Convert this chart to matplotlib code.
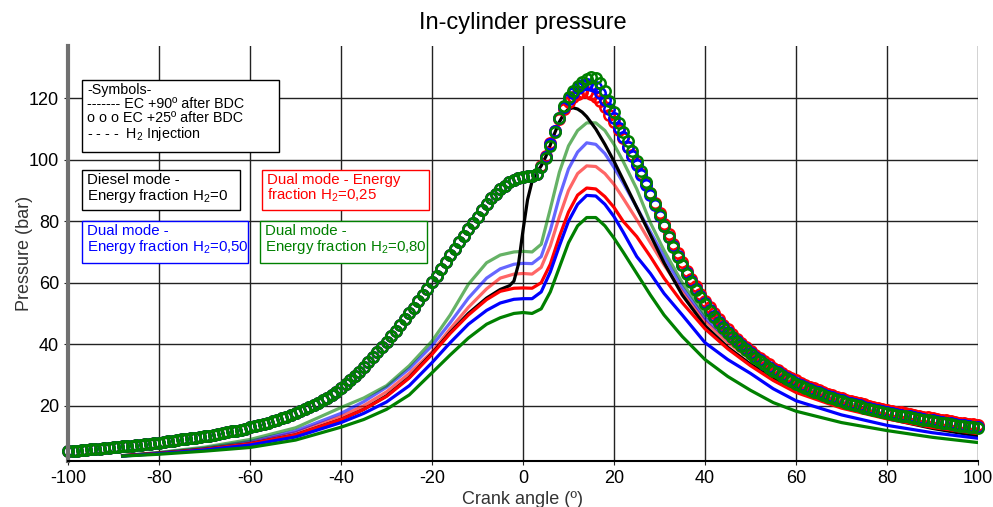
import numpy as np
import matplotlib.pyplot as plt
from matplotlib.patches import Rectangle

plt.rcParams['font.family'] = ['Liberation Sans', 'DejaVu Sans']
plt.rcParams['mathtext.fontset'] = 'custom'
plt.rcParams['mathtext.rm'] = 'Liberation Sans'
plt.rcParams['mathtext.it'] = 'Liberation Sans'
plt.rcParams['axes.unicode_minus'] = False

# crank angle grid for the EC +90 curves (solid lines)
angle_lines = [-88, -80, -70, -60, -50, -40, -35, -30, -25, -20, -16, -12, -8, -5, -2, 0, 2, 4, 6, 8,
               10, 12, 14, 16, 18, 20, 22, 25, 28, 31, 35, 40, 45, 50, 55, 60, 70, 80, 90, 100]

green_dark = [3.6, 4.2, 5.2, 6.4, 8.8, 13.0, 15.5, 18.8, 23.5, 30.7, 36.5, 42.0, 46.5, 48.6, 50.0, 50.3, 50.0, 51.5, 57.0, 65.0,
              73.0, 78.5, 81.2, 81.2, 78.5, 74.5, 70.0, 63.0, 56.0, 49.5, 42.5, 35.0, 29.5, 25.0, 21.0, 18.2, 14.5, 11.9, 9.7, 8.0]
blue_dark = [3.6, 4.4, 5.6, 7.2, 9.8, 14.5, 17.5, 21.2, 26.5, 34.0, 40.5, 46.5, 51.0, 53.4, 54.6, 54.8, 54.8, 57.0, 63.5, 72.0,
             80.0, 85.5, 88.4, 88.2, 85.5, 81.5, 76.5, 68.5, 63.0, 56.5, 49.5, 40.5, 35.0, 30.5, 25.5, 21.6, 17.0, 13.6, 11.2, 9.4]
red_dark = [3.7, 4.5, 5.8, 7.6, 10.5, 15.5, 18.8, 23.0, 29.0, 36.7, 43.5, 49.5, 54.5, 57.2, 58.2, 58.3, 58.2, 60.0, 66.0, 75.0,
            83.0, 88.5, 90.8, 90.5, 88.0, 84.5, 80.0, 75.0, 68.5, 61.5, 53.5, 45.0, 38.5, 33.0, 28.2, 24.3, 19.2, 15.7, 12.9, 10.9]
red_light = [3.7, 4.6, 6.0, 8.0, 11.2, 16.5, 20.0, 24.5, 30.5, 37.5, 45.0, 52.0, 58.0, 61.5, 62.8, 63.0, 62.8, 65.0, 72.0, 81.5,
             90.0, 95.5, 98.0, 97.8, 95.5, 92.0, 87.5, 80.5, 73.0, 65.8, 57.0, 47.5, 40.5, 35.0, 30.2, 26.3, 20.8, 16.6, 13.2, 10.6]
blue_light = [3.7, 4.7, 6.2, 8.4, 11.8, 17.5, 21.3, 26.0, 32.0, 39.5, 47.0, 55.0, 61.5, 64.5, 66.0, 66.3, 66.2, 68.5, 77.0, 88.0,
              97.0, 102.5, 105.5, 105.0, 102.0, 97.5, 92.5, 84.5, 76.5, 68.5, 58.5, 48.5, 41.5, 35.5, 30.5, 26.5, 20.8, 16.5, 13.0, 10.2]
green_light = [3.8, 4.8, 6.5, 9.0, 12.8, 19.4, 22.5, 26.5, 33.0, 41.0, 49.5, 59.5, 66.5, 69.0, 70.0, 70.2, 70.0, 72.5, 84.0, 96.0,
               104.5, 109.5, 112.0, 112.0, 109.5, 105.0, 99.5, 90.5, 79.5, 70.5, 60.0, 49.5, 43.0, 36.5, 31.5, 27.3, 21.5, 17.0, 13.5, 10.6]

# diesel mode (H2 = 0)
angle_diesel = [-88, -80, -70, -60, -50, -40, -35, -30, -25, -20, -16, -12, -8, -5, -3, -2, -1, 0, 1, 2, 3, 4, 5, 6, 7, 8, 9,
                10, 11, 12, 13, 14, 16, 18, 20, 22, 25, 28, 31, 35, 40, 45, 50, 55, 60, 70, 80, 90, 100]
diesel = [3.7, 4.5, 5.8, 7.6, 10.5, 15.5, 18.8, 23.2, 29.2, 37.0, 43.8, 50.0, 55.0, 57.8, 59.0, 60.5, 66.0, 77.0, 87.0, 93.0,
          95.8, 98.0, 101.0, 104.8, 108.8, 112.3, 115.0, 116.5, 116.9, 116.5, 115.5, 114.0, 110.0, 105.0, 99.5, 93.5, 84.5,
          75.5, 66.5, 56.0, 46.0, 39.0, 33.5, 29.0, 25.3, 20.0, 15.8, 12.6, 10.1]

# EC +25 curves (circles), one point per degree
angle_circ = list(range(-100, 101))
circ_compression = [5.2, 5.3, 5.4, 5.5, 5.6, 5.8, 5.9, 6.0, 6.1, 6.3,
                    6.5, 6.6, 6.8, 6.9, 7.0, 7.2, 7.3, 7.5, 7.6, 7.8,
                    8.0, 8.2, 8.4, 8.6, 8.8, 9.0, 9.2, 9.4, 9.6, 9.8,
                    10.0, 10.2, 10.5, 10.8, 11.0, 11.3, 11.6, 11.9, 12.2, 12.5,
                    12.9, 13.3, 13.7, 14.1, 14.5, 14.9, 15.4, 15.9, 16.4, 17.0,
                    17.6, 18.2, 18.8, 19.5, 20.2, 20.9, 21.7, 22.6, 23.6, 24.6,
                    25.7, 27.0, 28.3, 29.7, 31.1, 32.6, 34.1, 35.7, 37.4, 39.1,
                    40.8, 42.6, 44.4, 46.2, 48.1, 50.0, 51.9, 53.9, 55.9, 58.0,
                    60.1, 62.3, 64.5, 66.7, 68.9, 71.1, 73.2, 75.3, 77.4, 79.5,
                    81.5, 83.6, 85.6, 87.4, 89.0, 90.4, 91.6, 92.6, 93.4, 94.0,
                    94.4, 94.6, 94.7]
green_circ_exp = [95.2, 97.5, 100.5, 104.5, 109.0, 113.5, 117.5, 120.3, 122.5, 124.0, 125.3, 126.3, 126.8,
                  126.5, 125.0, 122.5, 119.0, 115.5, 112.0, 109.0, 106.0, 102.7, 99.5, 96.2, 92.8, 89.3, 85.6, 82.0,
                  78.3, 74.8, 71.6, 68.5, 65.6, 62.8, 60.2, 57.7, 55.3, 53.0, 50.9, 48.9, 47.0, 45.3, 43.7, 42.2,
                  40.8, 39.4, 38.1, 36.8, 35.6, 34.5, 33.4, 32.4, 31.4, 30.5, 29.6, 28.8, 28.0, 27.2, 26.5, 25.8,
                  25.2, 24.6, 24.0, 23.4, 22.9, 22.4, 21.9, 21.4, 21.0, 20.6, 20.2, 19.8, 19.4, 19.0, 18.7, 18.3,
                  18.0, 17.7, 17.4, 17.1, 16.8, 16.5, 16.2, 15.9, 15.7, 15.4, 15.2, 14.9, 14.7, 14.4, 14.2, 14.0,
                  13.8, 13.5, 13.3, 13.1, 12.9, 12.7]
blue_circ_exp = [95.3, 97.8, 101.0, 105.0, 109.5, 113.5, 117.0, 119.8, 121.8, 123.2, 124.2, 124.6, 124.4,
                 123.5, 121.8, 119.5, 116.6, 113.5, 110.4, 107.4, 104.3, 101.2, 98.2, 95.1, 91.9, 88.6, 85.2, 81.8,
                 78.4, 75.0, 71.9, 68.8, 65.9, 63.1, 60.5, 58.0, 55.6, 53.3, 51.2, 49.2, 47.3, 45.6, 44.0, 42.5,
                 41.1, 39.7, 38.4, 37.1, 35.9, 34.8, 33.7, 32.7, 31.7, 30.8, 29.9, 29.1, 28.3, 27.5, 26.8, 26.1,
                 25.5, 24.9, 24.3, 23.7, 23.2, 22.7, 22.2, 21.7, 21.3, 20.9, 20.5, 20.1, 19.7, 19.3, 19.0, 18.6,
                 18.3, 18.0, 17.7, 17.4, 17.1, 16.8, 16.5, 16.2, 16.0, 15.7, 15.5, 15.2, 15.0, 14.7, 14.5, 14.3,
                 14.1, 13.8, 13.6, 13.4, 13.2, 13.0]
red_circ_exp = [95.3, 98.0, 101.3, 105.3, 109.5, 113.3, 116.5, 118.8, 120.5, 121.5, 122.0, 122.0, 121.5,
                120.5, 119.0, 117.0, 114.7, 112.2, 109.6, 107.0, 104.2, 101.4, 98.5, 95.5, 92.4, 89.2, 85.9, 82.6,
                79.2, 75.9, 72.7, 69.6, 66.7, 63.9, 61.3, 58.8, 56.4, 54.1, 52.0, 50.0, 48.1, 46.4, 44.8, 43.3,
                41.8, 40.4, 39.1, 37.8, 36.6, 35.5, 34.4, 33.4, 32.4, 31.5, 30.6, 29.8, 29.0, 28.2, 27.5, 26.8,
                26.2, 25.6, 25.0, 24.4, 23.9, 23.4, 22.9, 22.4, 22.0, 21.6, 21.2, 20.8, 20.4, 20.0, 19.7, 19.3,
                19.0, 18.7, 18.4, 18.1, 17.8, 17.5, 17.2, 16.9, 16.7, 16.4, 16.2, 15.9, 15.7, 15.4, 15.2, 15.0,
                14.8, 14.5, 14.3, 14.1, 13.9, 13.7]

fig = plt.figure(figsize=(9.93, 5.07), dpi=100)
ax = fig.add_axes([68 / 993, 46 / 507, 910 / 993, 415 / 507])

lw = 2.3
ax.plot(angle_lines, red_light, color='#ff0000', alpha=0.6, lw=lw)
ax.plot(angle_lines, blue_light, color='#0000ff', alpha=0.6, lw=lw)
ax.plot(angle_lines, green_light, color='#008000', alpha=0.6, lw=lw)
ax.plot(angle_diesel, diesel, color='black', lw=lw)
ax.plot(angle_lines, red_dark, color='#ff0000', lw=lw)
ax.plot(angle_lines, blue_dark, color='#0000ff', lw=lw)
ax.plot(angle_lines, green_dark, color='#008000', lw=lw)

for exp, col in [(red_circ_exp, '#ff0000'), (blue_circ_exp, '#0000ff'), (green_circ_exp, '#008000')]:
    ax.plot(angle_circ, circ_compression + exp, 'o', color=col, mfc='none', ms=7.5, mew=1.8, clip_on=False)

ax.set_xlim(-100, 100)
ax.set_ylim(2, 137)
ax.set_xticks(range(-100, 101, 20))
ax.set_yticks(range(20, 121, 20))
ax.grid(True, color='#222222', lw=1)
ax.set_axisbelow(True)
for s in ['top', 'right']:
    ax.spines[s].set_visible(False)
ax.spines['left'].set_color('#707070')
ax.spines['left'].set_linewidth(3)
ax.spines['bottom'].set_linewidth(1.5)
ax.tick_params(labelsize=13, length=3, color='#222222')
ax.set_xlabel('Crank angle (º)', fontsize=13, color='#333333', labelpad=3)
ax.set_ylabel('Pressure (bar)', fontsize=13, color='#333333', labelpad=-3)
ax.set_title('In-cylinder pressure', fontsize=17, pad=12)


def box(x0, y0, x1, y1, color, text, fs):
    fig.patches.append(Rectangle((x0 / 993, 1 - y1 / 507), (x1 - x0) / 993, (y1 - y0) / 507,
                                 transform=fig.transFigure, fc='white', ec=color, lw=1, zorder=5))
    fig.text((x0 + 5) / 993, 1 - (y0 + 3) / 507, text, color=color, fontsize=fs, va='top', ha='left',
             linespacing=1.0, zorder=6)


box(82, 80, 279, 152, 'black',
    '-Symbols-\n------- EC +90º after BDC\no o o EC +25º after BDC\n- - - -  H$_2$ Injection', 10.3)
box(82, 170, 240, 210, 'black', 'Diesel mode -\nEnergy fraction H$_2$=0', 10.8)
box(262, 170, 429, 210, '#ff0000', 'Dual mode - Energy\nfraction H$_2$=0,25', 10.8)
box(82, 221, 248, 263, '#0000ff', 'Dual mode -\nEnergy fraction H$_2$=0,50', 10.8)
box(260, 221, 427, 263, '#008000', 'Dual mode -\nEnergy fraction H$_2$=0,80', 10.8)

fig.savefig('out.png', dpi=100)
